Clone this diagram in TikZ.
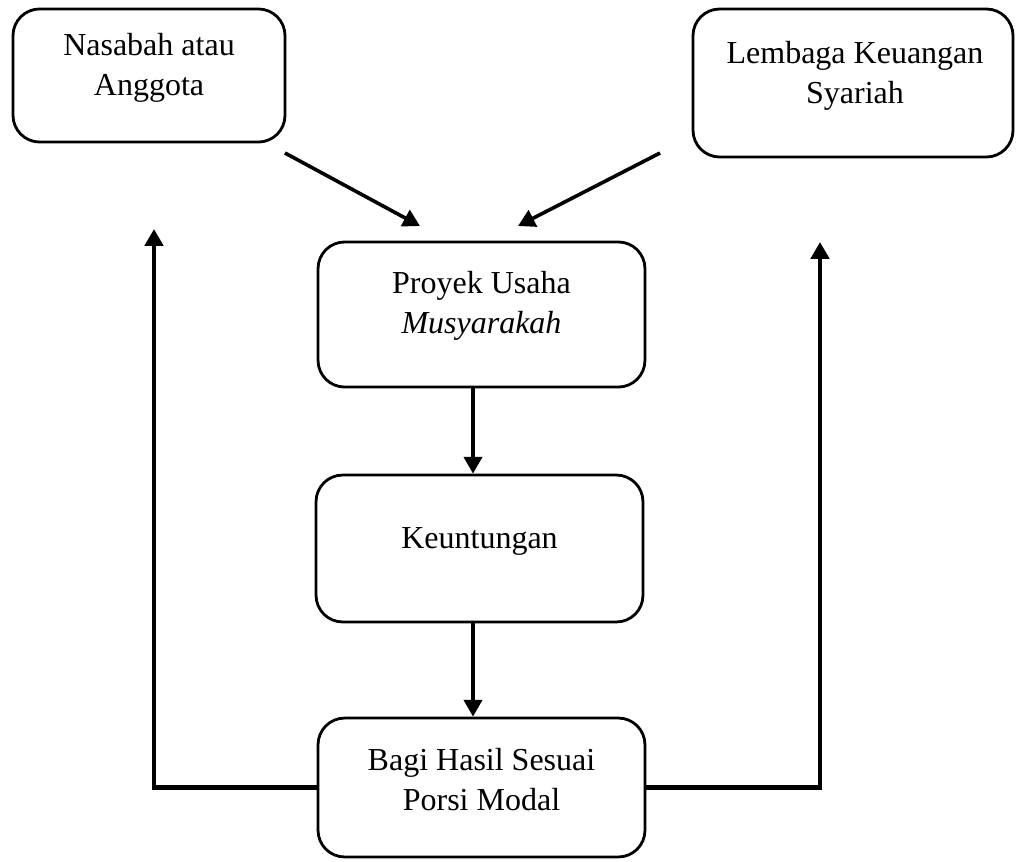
\documentclass[tikz,border=0pt]{standalone}
\usepackage{fontspec}
\setmainfont{Liberation Serif}
\usetikzlibrary{arrows.meta}

\begin{document}
\begin{tikzpicture}[x=0.375pt,y=-0.375pt]
            \tikzstyle{kotak}=[draw,line width=1.05pt,rounded corners=10pt,inner sep=0pt]
            \tikzstyle{teks}=[anchor=north,inner sep=0pt,align=center,font=\fontsize{12}{15}\selectfont]
            \tikzstyle{panah}=[line width=1.35pt,-{Triangle[length=6.3pt,width=6.8pt]}]
            \tikzstyle{balik}=[line width=1.55pt,-{Triangle[length=6.3pt,width=6.8pt]}]
            \useasboundingbox (0,0) rectangle (1023,861);
            \node [kotak,minimum width=102pt,minimum height=49.9pt] (nasabah) at (149,75.5) {};
            \node [teks] (nasabahT) at (149,33) {Nasabah atau\\Anggota};
            \node [kotak,minimum width=120pt,minimum height=55.5pt] (lembaga) at (853,83) {};
            \node [teks] (lembagaT) at (855,41) {Lembaga Keuangan\\Syariah};
            \node [kotak,minimum width=122.6pt,minimum height=54.4pt] (proyek) at (481.5,314.5) {};
            \node [teks] (proyekT) at (481.5,271) {Proyek Usaha\\\textit{Musyarakah}};
            \node [kotak,minimum width=122.6pt,minimum height=55.1pt] (untung) at (479.5,548.5) {};
            \node [teks] (untungT) at (479.5,527) {Keuntungan};
            \node [kotak,minimum width=122.6pt,minimum height=52.1pt] (bagi) at (481.5,787.5) {};
            \node [teks] (bagiT) at (481.5,748) {Bagi Hasil Sesuai\\Porsi Modal};
            \coordinate (n1) at (285,153);
            \coordinate (n2) at (420,226);
            \coordinate (l1) at (660,153);
            \coordinate (l2) at (518,226);
            \coordinate (kiri) at (154,229);
            \coordinate (kanan) at (820,242);
            \draw [panah] (n1) -- (n2);
            \draw [panah] (l1) -- (l2);
            \draw [panah] (proyek.south -| 473,0) -- (untung.north -| 473,0);
            \draw [panah] (untung.south -| 473,0) -- (bagi.north -| 473,0);
            \draw [balik] (bagi.west) -| (kiri);
            \draw [balik] (bagi.east) -| (kanan);
\end{tikzpicture}
\end{document}
